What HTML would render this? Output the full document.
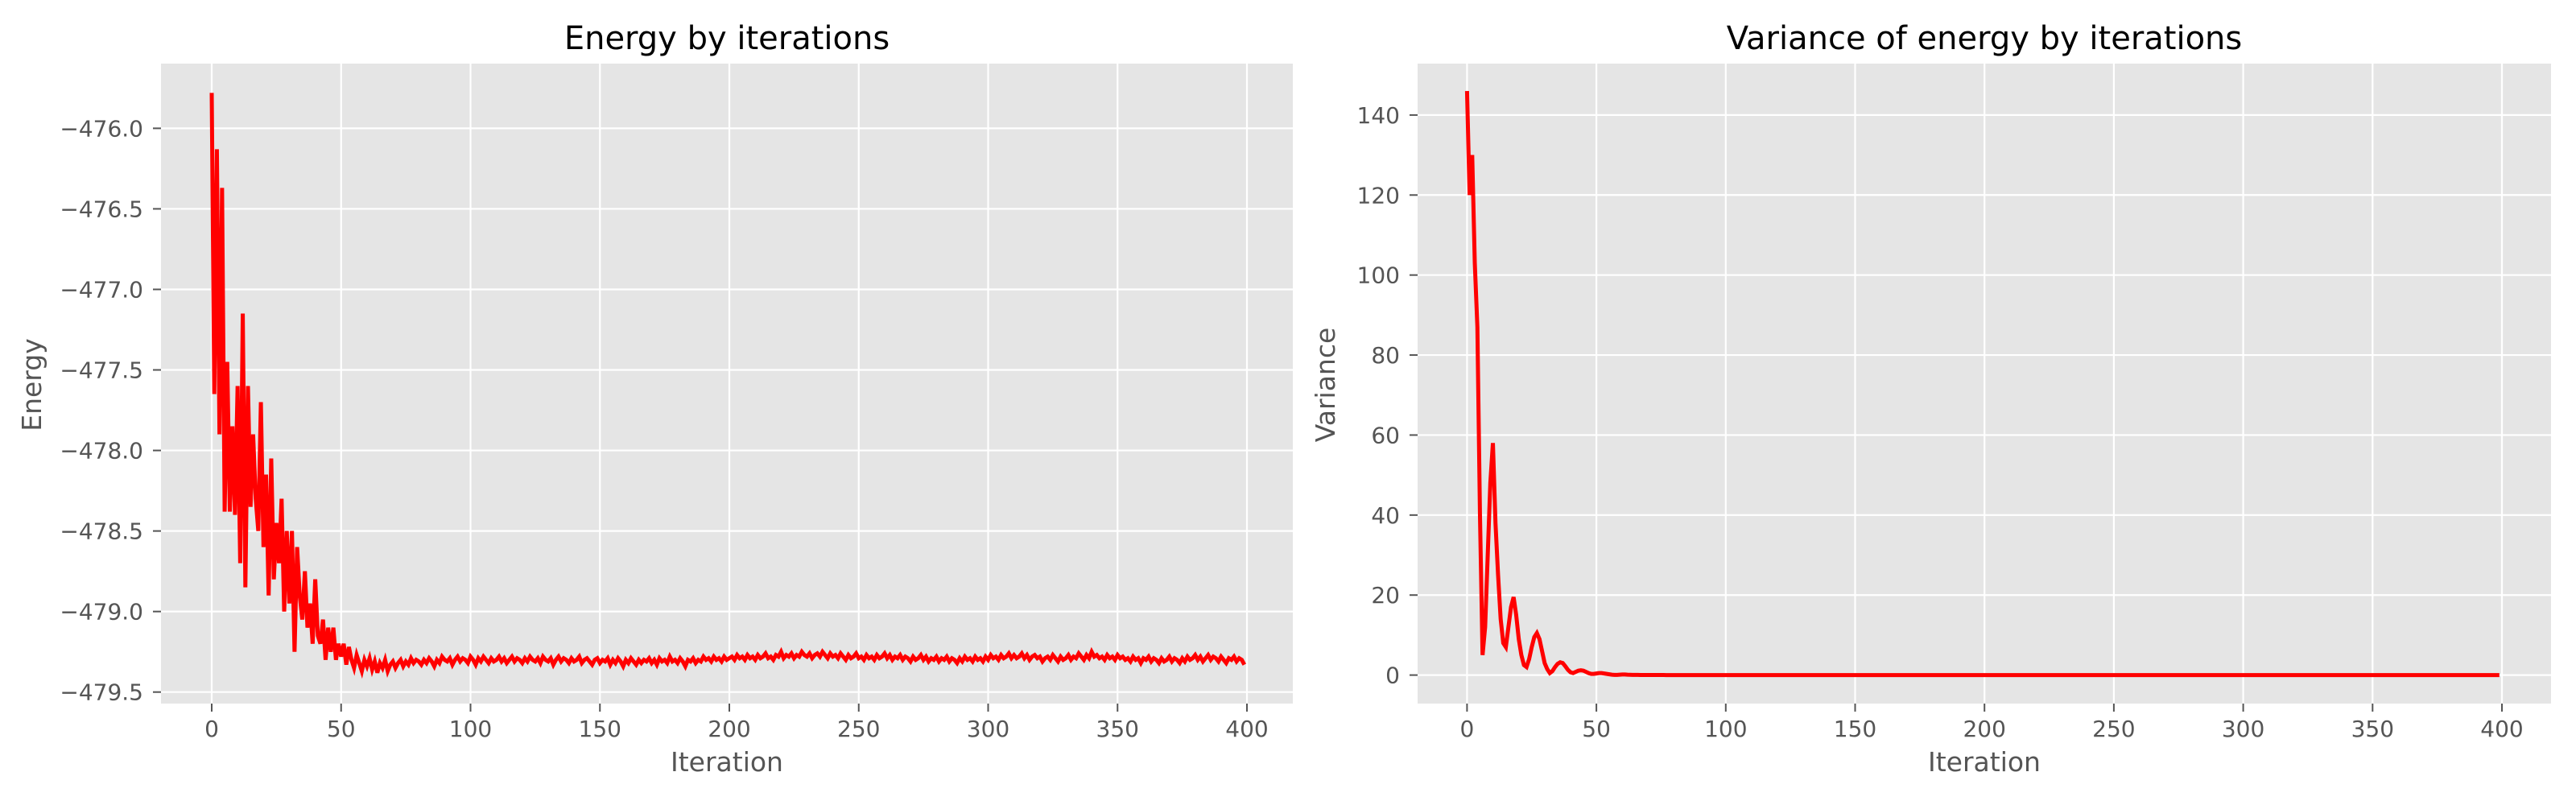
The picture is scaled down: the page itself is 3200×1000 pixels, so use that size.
<!DOCTYPE html>
<html><head><meta charset="utf-8"><style>
html,body{margin:0;padding:0;background:#fff;}
svg{display:block;font-family:"DejaVu Sans","Liberation Sans",sans-serif;}
</style></head><body>
<svg id="fig" width="3200" height="1000" viewBox="0 0 3200 1000" xmlns="http://www.w3.org/2000/svg"></svg>
<script>
const xTicks = [0,50,100,150,200,250,300,350,400];
const energyTicks = [-476.0,-476.5,-477.0,-477.5,-478.0,-478.5,-479.0,-479.5];
const energyTickLabels = ["\u2212476.0","\u2212476.5","\u2212477.0","\u2212477.5","\u2212478.0","\u2212478.5","\u2212479.0","\u2212479.5"];
const varTicks = [0,20,40,60,80,100,120,140];
const varTickLabels = ["0","20","40","60","80","100","120","140"];
const energyHead = [-475.78,-477.65,-476.13,-477.9,-476.37,-478.38,-477.45,-478.38,-477.85,-478.4,-477.6,-478.7,-477.15,-478.85,-477.6,-478.35,-477.9,-478.3,-478.5,-477.7,-478.6,-478.15,-478.9,-478.05,-478.8,-478.45,-478.7,-478.3,-479.0,-478.5,-478.95,-478.5,-479.25,-478.6,-478.9,-479.05,-478.75,-479.1,-478.95,-479.2,-478.8,-479.15,-479.2,-479.05,-479.3,-479.1,-479.25,-479.1,-479.3,-479.2,-479.28,-479.2,-479.33,-479.22,-479.3,-479.35,-479.27,-479.32,-479.37,-479.3,-479.34,-479.29,-479.36,-479.31,-479.38,-479.32,-479.35,-479.3,-479.37,-479.33,-479.31,-479.35,-479.32,-479.3,-479.34,-479.31,-479.33,-479.29,-479.32,-479.3];
const energyTail = [-479.31,-479.33,-479.3,-479.32,-479.29,-479.31,-479.34,-479.3,-479.32,-479.28,-479.3,-479.31,-479.29,-479.33,-479.3,-479.28,-479.31,-479.29,-479.3,-479.32,-479.28,-479.3,-479.33,-479.29,-479.31,-479.28,-479.3,-479.32,-479.29,-479.31,-479.3,-479.28,-479.31,-479.29,-479.32,-479.3,-479.28,-479.31,-479.29,-479.3,-479.32,-479.29,-479.31,-479.28,-479.3,-479.31,-479.29,-479.32,-479.28,-479.3,-479.31,-479.29,-479.33,-479.3,-479.28,-479.31,-479.29,-479.3,-479.32,-479.29,-479.31,-479.3,-479.28,-479.32,-479.3,-479.29,-479.31,-479.33,-479.3,-479.29,-479.32,-479.3,-479.31,-479.29,-479.33,-479.3,-479.32,-479.29,-479.31,-479.34,-479.3,-479.32,-479.29,-479.31,-479.33,-479.3,-479.32,-479.3,-479.31,-479.29,-479.32,-479.3,-479.33,-479.29,-479.31,-479.3,-479.32,-479.28,-479.31,-479.3,-479.32,-479.29,-479.31,-479.34,-479.3,-479.31,-479.29,-479.32,-479.3,-479.31,-479.28,-479.3,-479.29,-479.31,-479.28,-479.3,-479.29,-479.31,-479.28,-479.3,-479.29,-479.28,-479.3,-479.27,-479.29,-479.28,-479.3,-479.27,-479.29,-479.28,-479.3,-479.27,-479.29,-479.28,-479.26,-479.29,-479.28,-479.3,-479.27,-479.28,-479.25,-479.29,-479.27,-479.28,-479.26,-479.29,-479.27,-479.28,-479.25,-479.27,-479.28,-479.26,-479.29,-479.27,-479.26,-479.28,-479.25,-479.27,-479.29,-479.26,-479.28,-479.27,-479.29,-479.26,-479.28,-479.3,-479.27,-479.29,-479.28,-479.26,-479.29,-479.28,-479.3,-479.27,-479.29,-479.28,-479.3,-479.27,-479.29,-479.28,-479.26,-479.29,-479.27,-479.3,-479.28,-479.29,-479.27,-479.3,-479.28,-479.29,-479.31,-479.28,-479.3,-479.29,-479.27,-479.3,-479.28,-479.31,-479.29,-479.3,-479.28,-479.31,-479.29,-479.3,-479.28,-479.31,-479.29,-479.3,-479.32,-479.29,-479.31,-479.28,-479.3,-479.29,-479.31,-479.28,-479.3,-479.29,-479.31,-479.28,-479.3,-479.27,-479.29,-479.28,-479.3,-479.27,-479.29,-479.28,-479.26,-479.29,-479.27,-479.29,-479.28,-479.26,-479.29,-479.27,-479.3,-479.28,-479.27,-479.29,-479.28,-479.31,-479.29,-479.28,-479.3,-479.27,-479.29,-479.31,-479.28,-479.3,-479.29,-479.27,-479.3,-479.28,-479.29,-479.26,-479.28,-479.3,-479.27,-479.29,-479.25,-479.28,-479.27,-479.29,-479.28,-479.3,-479.27,-479.29,-479.28,-479.3,-479.27,-479.29,-479.28,-479.3,-479.29,-479.31,-479.28,-479.3,-479.29,-479.32,-479.29,-479.3,-479.28,-479.31,-479.29,-479.3,-479.32,-479.29,-479.31,-479.3,-479.28,-479.31,-479.29,-479.3,-479.32,-479.29,-479.31,
-479.28,-479.3,-479.29,-479.27,-479.3,-479.28,-479.31,-479.29,-479.27,-479.3,-479.28,-479.29,-479.31,-479.28,-479.3,-479.32,-479.29,-479.3,-479.28,-479.31,-479.29,-479.3,-479.33,-479.3,-479.29,-479.31,-479.28,-479.3,-479.32,-479.29,-479.31,-479.3,-479.33,-479.29,-479.31,-479.3];
const varianceHead = [146,120,130,103,87,40,5,12,30,48,58,38,25,14,8,7,12,17,19.5,15,9,5,2.5,2,4,7,9.5,10.5,9,6,3,1.5,0.5,1,2,2.8,3.2,3,2.2,1.3,0.7,0.5,0.8,1.1,1.2,1.1,0.8,0.5,0.3,0.3,0.4,0.5,0.5,0.4,0.3,0.2,0.1,0.05,0.05,0.1,0.15,0.15,0.1,0.08,0.05,0.05,0.04,0.03,0.03,0.02,0.02,0.02,0.01,0.01,0.01,0.01,0.01,0,0,0];
const varianceTail = [0,0,0,0,0,0,0,0,0,0,0,0,0,0,0,0,0,0,0,0,0,0,0,0,0,0,0,0,0,0,0,0,0,0,0,0,0,0,0,0,0,0,0,0,0,0,0,0,0,0,0,0,0,0,0,0,0,0,0,0,0,0,0,0,0,0,0,0,0,0,0,0,0,0,0,0,0,0,0,0,0,0,0,0,0,0,0,0,0,0,0,0,0,0,0,0,0,0,0,0,0,0,0,0,0,0,0,0,0,0,0,0,0,0,0,0,0,0,0,0,0,0,0,0,0,0,0,0,0,0,0,0,0,0,0,0,0,0,0,0,0,0,0,0,0,0,0,0,0,0,0,0,0,0,0,0,0,0,0,0,0,0,0,0,0,0,0,0,0,0,0,0,0,0,0,0,0,0,0,0,0,0,0,0,0,0,0,0,0,0,0,0,0,0,0,0,0,0,0,0,0,0,0,0,0,0,0,0,0,0,0,0,0,0,0,0,0,0,0,0,0,0,0,0,0,0,0,0,0,0,0,0,0,0,0,0,0,0,0,0,0,0,0,0,0,0,0,0,0,0,0,0,0,0,0,0,0,0,0,0,0,0,0,0,0,0,0,0,0,0,0,0,0,0,0,0,0,0,0,0,0,0,0,0,0,0,0,0,0,0,0,0,0,0,0,0,0,0,0,0,0,0,0,0,0,0,0,0,0,0,0,0,0,0,0,0,0,0,0,0,0,0,0,0,0,0,0,0,0,0,0,0,0,0,0,0,0,0,0,0];
const energyValues = energyHead.concat(energyTail).slice(0,400);
const varianceValues = varianceHead.concat(varianceTail).slice(0,400);

const NS = "http://www.w3.org/2000/svg";
const svg = document.getElementById('fig');
function mk(tag, attrs, parent){const e=document.createElementNS(NS,tag);for(const k in attrs)e.setAttribute(k,attrs[k]);(parent||svg).appendChild(e);return e;}

function panel(cfg){
  const g = mk('g',{});
  
  
  const L=cfg.left,R=cfg.right,T=79,B=874;
  const sx = v => cfg.x0 + (v-0)*(cfg.x400-cfg.x0)/400;
  const sy = v => cfg.yA + (v-cfg.vA)*(cfg.yB-cfg.yA)/(cfg.vB-cfg.vA);
  const bg = mk('rect',{x:L,y:T,width:R-L,height:B-T,fill:'#E5E5E5'},g);
  
  
  xTicks.forEach(t=>{
    const x=sx(t);
    const gl=mk('line',{x1:x,x2:x,y1:T,y2:B,stroke:'#fff','stroke-width':2.2},g);
    
    
    mk('line',{x1:x,x2:x,y1:B,y2:B+10,stroke:'#555','stroke-width':2},g);
    const tl=mk('text',{x:x,y:915,'text-anchor':'middle','font-size':28,fill:'#555'},g);
    tl.textContent=String(t);
    
    
  });
  cfg.ticks.forEach((t,i)=>{
    const y=sy(t);
    const gl=mk('line',{x1:L,x2:R,y1:y,y2:y,stroke:'#fff','stroke-width':2.2},g);
    
    
    mk('line',{x1:L-10,x2:L,y1:y,y2:y,stroke:'#555','stroke-width':2},g);
    const tl=mk('text',{x:L-22,y:y+10,'text-anchor':'end','font-size':28,fill:'#555'},g);
    tl.textContent=cfg.labels[i];
    
    
  });
  const pts=cfg.data.map((v,i)=>sx(i).toFixed(2)+','+sy(v).toFixed(2)).join(' ');
  const pl=mk('polyline',{points:pts,fill:'none',stroke:'#FF0000','stroke-width':5,'stroke-linejoin':'miter'},g);
  
  
  const ti=mk('text',{x:(L+R)/2,y:61,'text-anchor':'middle','font-size':40,fill:'#000'},g);
  ti.textContent=cfg.title;
  
  
  const xl=mk('text',{x:(L+R)/2,y:958,'text-anchor':'middle','font-size':33,fill:'#555'},g);
  xl.textContent='Iteration';
  
  
  const yl=mk('text',{x:0,y:0,'text-anchor':'middle','font-size':33,fill:'#555',transform:'translate('+(cfg.ylabX+11)+',478) rotate(-90)'},g);
  yl.textContent=cfg.ylab;
  
  
}
panel({name:'energy-chart',left:200,right:1606,x0:263,x400:1549,vA:-476.0,yA:159.4,vB:-479.5,yB:859.7,
  ticks:energyTicks,labels:energyTickLabels,data:energyValues,title:'Energy by iterations',ylab:'Energy',ylabX:40,lineName:'energy-line'});
panel({name:'variance-chart',left:1761,right:3169,x0:1822.4,x400:3108,vA:0,yA:838.6,vB:140,yB:142.9,
  ticks:varTicks,labels:varTickLabels,data:varianceValues,title:'Variance of energy by iterations',ylab:'Variance',ylabX:1647,lineName:'variance-line'});
</script>
</body></html>
